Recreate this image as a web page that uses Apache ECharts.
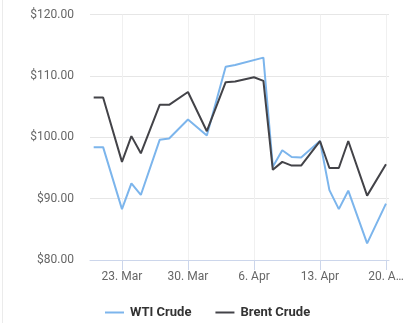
<!DOCTYPE html>
<html>
<head>
<meta charset="utf-8">
<script src="https://cdn.jsdelivr.net/npm/echarts@6/dist/echarts.min.js"></script>
<style>
  html, body { margin: 0; padding: 0; background: #fff; }
  #chart { width: 409px; height: 323px; }
</style>
</head>
<body>
<div id="chart"></div>
<script>
const dates = ['2022-03-20','2022-03-21','2022-03-23','2022-03-24','2022-03-25','2022-03-27','2022-03-28','2022-03-30',
  '2022-04-01','2022-04-03','2022-04-04','2022-04-06','2022-04-07','2022-04-08','2022-04-09','2022-04-10','2022-04-11',
  '2022-04-13','2022-04-14','2022-04-15','2022-04-16','2022-04-18','2022-04-20'];
const wtiCrude = [98.4, 98.4, 88.3, 92.5, 90.6, 99.6, 99.8, 102.9, 100.3, 111.5, 111.8, null, 113.0, 95.2, 97.9, 96.8, 96.7, 99.4, 91.4, 88.3, 91.3, 82.7, 89.2];
const brentCrude = [106.5, 106.5, 96.0, 100.2, 97.4, 105.3, 105.3, 107.4, 101.0, 109.0, 109.1, 109.8, 109.2, 94.7, 96.0, 95.4, 95.4, 99.4, 95.0, 95.0, 99.4, 90.5, 95.6];
const tickDates = ['2022-03-23','2022-03-30','2022-04-06','2022-04-13','2022-04-20'];
const tickLabels = ['23. Mar','30. Mar','6. Apr','13. Apr','20. A…'];

const DAY = 86400000;
const origin = Date.parse('2022-03-01');
const dayNum = d => (Date.parse(d) - origin) / DAY;
const xs = dates.map(dayNum);
const tickXs = tickDates.map(dayNum);
const labelMap = {};
tickXs.forEach((x, i) => { labelMap[x] = tickLabels[i]; });

const chart = echarts.init(document.getElementById('chart'), null, { renderer: 'canvas' });
chart.setOption({
  animation: false,
  textStyle: { fontFamily: 'Roboto' },
  grid: { left: 90, right: 20, top: 14.7, bottom: 63 },
  xAxis: {
    type: 'value',
    min: dayNum('2022-03-20') - 0.39,
    max: dayNum('2022-04-20') + 0.32,
    axisLine: { show: true, lineStyle: { color: '#ccd6eb', width: 1 } },
    axisTick: { show: true, length: 10, customValues: tickXs, lineStyle: { color: '#ccd6eb' } },
    axisLabel: {
      customValues: tickXs,
      margin: 11,
      color: '#666666',
      fontSize: 12,
      fontFamily: 'Roboto',
      formatter: v => labelMap[v] || ''
    },
    splitLine: { show: true, lineStyle: { color: '#f0f0f0', width: 1 } }
  },
  yAxis: {
    type: 'value',
    min: 80,
    max: 120,
    interval: 10,
    axisLine: { show: false },
    axisTick: { show: false },
    axisLabel: {
      margin: 16,
      color: '#666666',
      fontSize: 12,
      fontFamily: 'Roboto',
      formatter: v => '$' + v.toFixed(2)
    },
    splitLine: { lineStyle: { color: '#e6e6e6', width: 1 } }
  },
  legend: {
    top: 304,
    left: 105,
    padding: 0,
    itemGap: 24,
    itemWidth: 19,
    itemHeight: 2,
    icon: 'rect',
    textStyle: { color: '#333333', fontSize: 13, fontWeight: 'bold', fontFamily: 'Roboto', lineHeight: 17, padding: [0, 0, 0, 1] },
    data: ['WTI Crude', 'Brent Crude']
  },
  graphic: [{
    type: 'line',
    shape: { x1: 2.5, y1: 0, x2: 2.5, y2: 323 },
    style: { stroke: '#ebebeb', lineWidth: 1 }
  }],
  series: [
    {
      name: 'WTI Crude',
      type: 'line',
      data: xs.map((x, i) => [x, wtiCrude[i]]),
      connectNulls: true,
      showSymbol: false,
      symbol: 'none',
      color: '#7cb5ec',
      lineStyle: { width: 2, color: '#7cb5ec' }
    },
    {
      name: 'Brent Crude',
      type: 'line',
      data: xs.map((x, i) => [x, brentCrude[i]]),
      connectNulls: true,
      showSymbol: false,
      symbol: 'none',
      color: '#434348',
      lineStyle: { width: 2, color: '#434348' }
    }
  ]
});
</script>
</body>
</html>
